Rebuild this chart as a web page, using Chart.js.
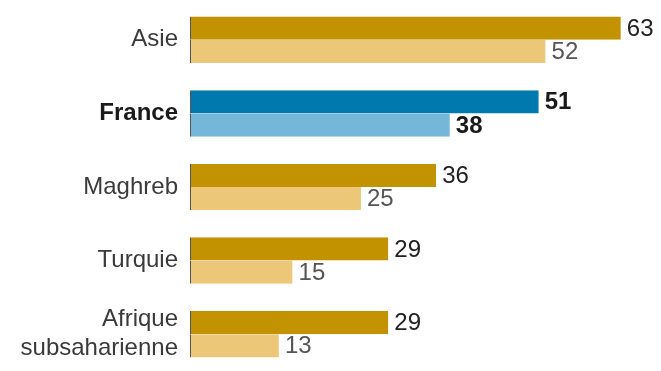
<!DOCTYPE html>
<html>
<head>
<meta charset="utf-8">
<script src="https://cdn.jsdelivr.net/npm/chart.js@4/dist/chart.umd.min.js"></script>
<style>
  body { margin: 0; background: #fff; }
  #wrap { width: 661px; height: 371px; position: relative; }
</style>
</head>
<body>
<div id="wrap"><canvas id="chart"></canvas></div>
<script>
const regions = ["Asie", "France", "Maghreb", "Turquie", ["Afrique", "subsaharienne"]];
const seriesA = [63, 51, 36, 29, 29];
const seriesB = [52, 38, 25, 15, 13];
const highlight = "France";

const FONT = "'Liberation Sans', Arial, sans-serif";

function isHighlight(i) {
  return regions[i] === highlight;
}

// draws the value at the end of each bar
const valueLabels = {
  id: "valueLabels",
  afterDatasetsDraw(chart) {
    const ctx = chart.ctx;
    ctx.save();
    ctx.textAlign = "left";
    ctx.textBaseline = "middle";
    chart.data.datasets.forEach((ds, di) => {
      const meta = chart.getDatasetMeta(di);
      meta.data.forEach((bar, i) => {
        const hl = isHighlight(i);
        if (hl) {
          ctx.font = "bold 24px " + FONT;
          ctx.fillStyle = "#1a1a1a";
        } else if (di === 0) {
          ctx.font = "24px " + FONT;
          ctx.fillStyle = "#222";
        } else {
          ctx.font = "24px " + FONT;
          ctx.fillStyle = "#555";
        }
        ctx.fillText(ds.data[i], bar.x + 6, bar.y + 1);
      });
    });
    ctx.restore();
  }
};

new Chart(document.getElementById("chart"), {
  type: "bar",
  data: {
    labels: regions,
    datasets: [
      {
        data: seriesA,
        backgroundColor: c => isHighlight(c.dataIndex) ? "#0079ae" : "#c29200"
      },
      {
        data: seriesB,
        backgroundColor: c => isHighlight(c.dataIndex) ? "#75b7d9" : "#ebc777"
      }
    ]
  },
  options: {
    indexAxis: "y",
    responsive: true,
    maintainAspectRatio: false,
    animation: false,
    datasets: {
      bar: {
        categoryPercentage: 0.632,
        barPercentage: 1,
        borderSkipped: false,
        borderWidth: { left: 1, top: 0, right: 0, bottom: 0 },
        borderColor: "#555"
      }
    },
    layout: { padding: { top: 3, right: 6, bottom: 0, left: 0 } },
    plugins: {
      legend: { display: false },
      tooltip: { enabled: false }
    },
    scales: {
      x: {
        display: false,
        min: 0,
        max: 68
      },
      y: {
        afterFit(scale) {
          scale.width = 190;
          scale.paddingTop = 0;
          scale.paddingBottom = 0;
        },
        border: { display: false },
        grid: { display: false, drawTicks: false },
        ticks: {
          padding: 12,
          font: c => ({
            family: FONT,
            size: 24,
            weight: isHighlight(c.index) ? "bold" : "normal",
            lineHeight: 1.2
          }),
          color: c => isHighlight(c.index) ? "#1a1a1a" : "#3a3a3a"
        }
      }
    }
  },
  plugins: [valueLabels]
});
</script>
</body>
</html>
